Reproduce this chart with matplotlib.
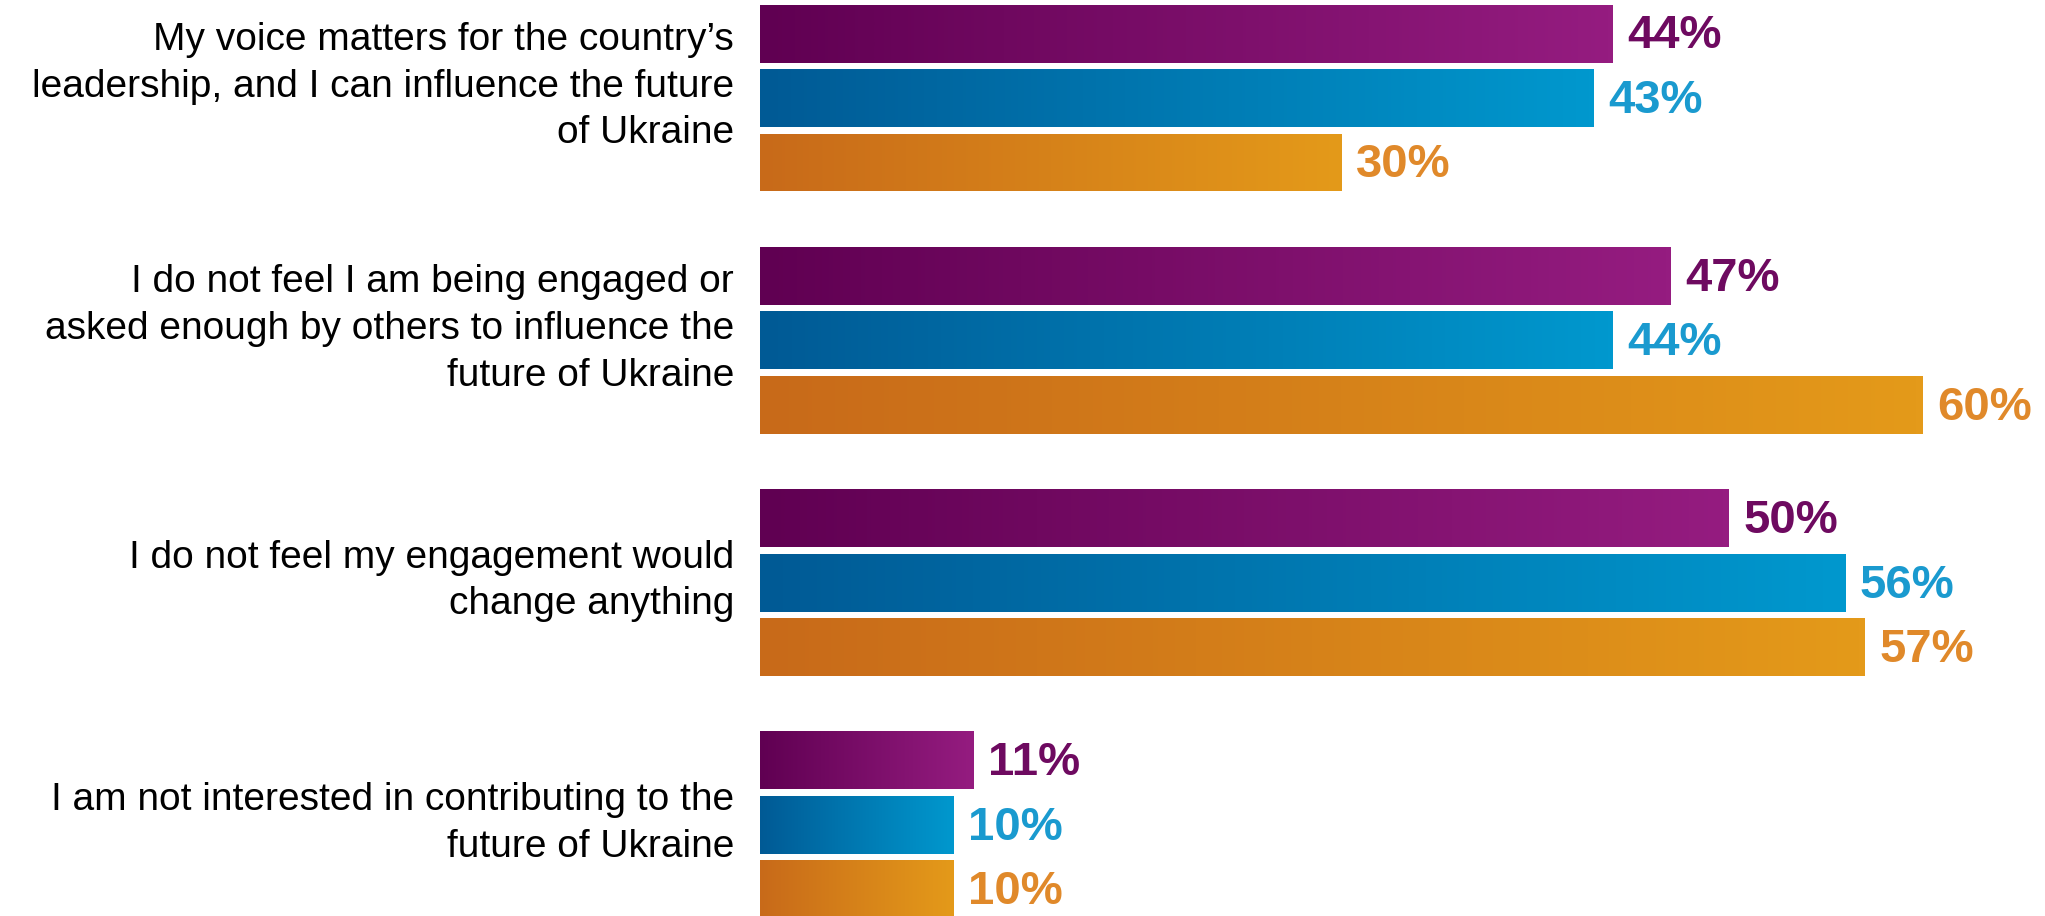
#
# Engagement survey chart -- horizontal bars with gradient fill
#

import numpy as np
import matplotlib.pyplot as plt
from matplotlib.colors import LinearSegmentedColormap

plt.rcParams['font.family'] = ['Liberation Sans', 'DejaVu Sans']

# data
categories = [
    "My voice matters for the country\u2019s\nleadership, and I can influence the future\nof Ukraine",
    "I do not feel I am being engaged or\nasked enough by others to influence the\nfuture of Ukraine",
    "I do not feel my engagement would\nchange anything",
    "I am not interested in contributing to the\nfuture of Ukraine",
]
series1 = [44, 47, 50, 11]
series2 = [43, 44, 56, 10]
series3 = [30, 60, 57, 10]

# styles
grads = [('#600052', '#951c80'), ('#005a95', '#0098ce'), ('#c86a19', '#e49a1a')]
txtColors = ['#6e0a60', '#1a9acf', '#e0892a']
offsets = [-0.266, 0.0, 0.266]
barH = 0.239

fig = plt.figure(figsize=[20.45, 9.16], dpi=100, facecolor='w')
ax = fig.add_axes([760/2045, 0, 1 - 760/2045, 1])

yPos = np.arange(len(categories))
for k, vals in enumerate([series1, series2, series3]):
  cmap = LinearSegmentedColormap.from_list('g%d' % k, grads[k])
  bars = ax.barh(yPos + offsets[k], vals, height=barH, color='none',
                 edgecolor='none')
  for b, v in zip(bars, vals):
    y0 = b.get_y()
    img = ax.imshow(np.linspace(0, 1, 256).reshape(1, -1), cmap=cmap,
                    extent=[0, v, y0 + barH, y0], aspect='auto',
                    interpolation='bicubic', zorder=2)
    img.set_clip_path(b)
    ax.text(v + 0.75, y0 + barH/2 + 0.012, '%d%%' % v, ha='left', va='center',
            fontsize=34, fontweight='bold', color=txtColors[k], zorder=3)

# category labels
for i, lab in enumerate(categories):
  nLines = lab.count('\n') + 1
  dy = -0.047 if nLines == 3 else -0.007
  ax.text(-1.34, i + dy, lab, ha='right', va='center', fontsize=28,
          linespacing=1.38, color='k', clip_on=False)

ax.set_xlim(0, 1285/19.38)
ax.set_ylim(3.376, -0.4045)
ax.axis('off')

plt.savefig('out.png', dpi=100, facecolor='w')
